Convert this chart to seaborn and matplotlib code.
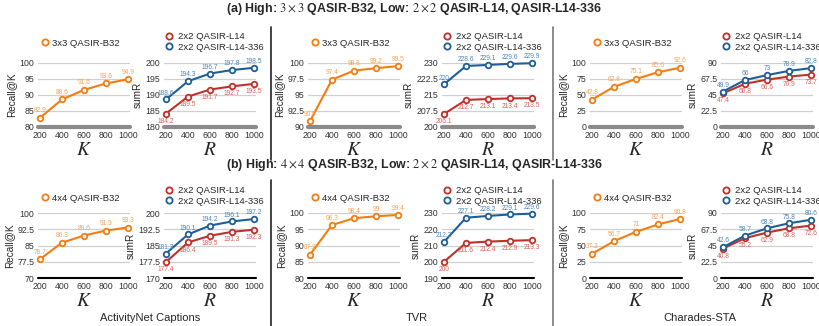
import pandas as pd
import matplotlib.pyplot as plt
import seaborn as sns
from matplotlib.lines import Line2D

sns.set_style('white')
plt.rcParams['font.family'] = ['Liberation Sans', 'DejaVu Sans']
plt.rcParams['mathtext.fontset'] = 'stix'

steps = [200, 400, 600, 800, 1000]

# (a) high 3x3
a_anet_k = [82.9, 88.6, 91.6, 93.6, 94.9]
a_anet_l14 = [184.2, 189.5, 191.7, 192.7, 193.5]
a_anet_l336 = [188.6, 194.3, 196.7, 197.8, 198.5]
a_tvr_k = [90.9, 97.4, 98.8, 99.2, 99.5]
a_tvr_l14 = [206.1, 212.7, 213.1, 213.4, 213.5]
a_tvr_l336 = [220, 228.6, 229.1, 229.6, 229.9]
a_cha_k = [42.8, 62.8, 75.1, 85.6, 92.6]
a_cha_l14 = [47.4, 60.8, 66.6, 70.9, 73.7]
a_cha_l336 = [49.9, 66, 73, 78.9, 82.8]

# (b) high 4x4
b_anet_k = [78.7, 86.3, 89.6, 91.9, 93.3]
b_anet_l14 = [177.4, 186.4, 189.5, 191.3, 192.3]
b_anet_l336 = [181.3, 190.1, 194.2, 196.1, 197.2]
b_tvr_k = [87.2, 96.3, 98.4, 99, 99.4]
b_tvr_l14 = [200, 211.6, 212.4, 212.9, 213.3]
b_tvr_l336 = [212.2, 227.1, 228.2, 229.1, 229.6]
b_cha_k = [37.2, 56.7, 71, 82.4, 90.8]
b_cha_l14 = [40.8, 55.2, 62.9, 68.8, 72.6]
b_cha_l336 = [42.6, 58.7, 68.8, 75.8, 80.6]

datasets = ['ActivityNet Captions', 'TVR', 'Charades-STA']
row_titles = [r'(a) High: $3\times3$ QASIR-B32, Low: $2\times2$ QASIR-L14, QASIR-L14-336',
              r'(b) High: $4\times4$ QASIR-B32, Low: $2\times2$ QASIR-L14, QASIR-L14-336']
high_names = ['3x3 QASIR-B32', '4x4 QASIR-B32']

k_data = [[a_anet_k, a_tvr_k, a_cha_k], [b_anet_k, b_tvr_k, b_cha_k]]
r_data = [[(a_anet_l14, a_anet_l336), (a_tvr_l14, a_tvr_l336), (a_cha_l14, a_cha_l336)],
          [(b_anet_l14, b_anet_l336), (b_tvr_l14, b_tvr_l336), (b_cha_l14, b_cha_l336)]]
k_ticks = [[[80, 85, 90, 95, 100], [90, 92.5, 95, 97.5, 100], [0, 25, 50, 75, 100]],
           [[70, 77.5, 85, 92.5, 100], [80, 85, 90, 95, 100], [0, 25, 50, 75, 100]]]
r_ticks = [[[180, 185, 190, 195, 200], [200, 207.5, 215, 222.5, 230], [0, 22.5, 45, 67.5, 90]],
           [[170, 177.5, 185, 192.5, 200], [190, 200, 210, 220, 230], [0, 22.5, 45, 67.5, 90]]]

ORANGE, RED, BLUE = '#f57c10', '#c0302a', '#1f5e96'
ORANGE_T, RED_T, BLUE_T = '#f5a35a', '#d8605a', '#4d86bb'

W, H = 820, 326
fig = plt.figure(figsize=(W / 100, H / 100), dpi=100)

x_left = [40, 166, 310, 444, 592, 723]
row_top = [63, 213]
row_bot = [127, 278]
pw = 88


def make_ax(xpx, row):
    per = pw / 800
    x0 = xpx - 15 * per
    w = pw + 30 * per
    return fig.add_axes([x0 / W, 1 - row_bot[row] / H, w / W, (row_bot[row] - row_top[row]) / H])


def style(ax, ticks, row, ylabel, xlabel):
    ax.set_xlim(185, 1015)
    ax.set_ylim(ticks[0], ticks[-1])
    ax.set_yticks(ticks)
    ax.set_yticklabels([('%g' % t) for t in ticks])
    ax.set_xticks(steps)
    ax.tick_params(labelsize=6.3, colors='#333333', length=0, pad=3)
    for s in ax.spines.values():
        s.set_visible(False)
    ax.grid(axis='y', color='#d0d0d0', lw=0.9)
    ax.set_axisbelow(True)
    if row == 0:
        ax.axhline(ticks[0], color='#8a8a8a', lw=3, clip_on=False, zorder=1)
    else:
        ax.axhline(ticks[0], color='black', lw=1.5, clip_on=False, zorder=1)
    ax.set_ylabel(ylabel, fontsize=7.2, labelpad=2)
    ax.set_xlabel(xlabel, fontsize=14, labelpad=1)


def draw(ax, vals, color, tcolor, dy):
    df = pd.DataFrame({'x': steps, 'y': vals})
    sns.lineplot(data=df, x='x', y='y', ax=ax, color=color, lw=1.5, marker='o',
                 markersize=4, markerfacecolor='white', markeredgecolor=color,
                 markeredgewidth=1.3, clip_on=False)
    for x, y in zip(steps, vals):
        ax.annotate('%g' % y, (x, y), xytext=(0, dy), textcoords='offset points',
                    ha='center', va='center', fontsize=4.8, color=tcolor)


for row in range(2):
    for d in range(3):
        axk = make_ax(x_left[2 * d], row)
        draw(axk, k_data[row][d], ORANGE, ORANGE_T, 5)
        style(axk, k_ticks[row][d], row, 'Recall@K', '$K$')
        hk = [Line2D([], [], ls='none', marker='o', markersize=4.5, markerfacecolor='white',
                     markeredgecolor=ORANGE, markeredgewidth=1.3)]
        ly = 43 if row == 0 else 198
        axk.legend(hk, [high_names[row]], loc='center', frameon=False, fontsize=6.8,
                   handletextpad=0.3, borderpad=0, handlelength=1,
                   bbox_to_anchor=((x_left[2 * d] + 40) / W, 1 - ly / H),
                   bbox_transform=fig.transFigure)

        axr = make_ax(x_left[2 * d + 1], row)
        l14, l336 = r_data[row][d]
        draw(axr, l14, RED, RED_T, -5.5)
        draw(axr, l336, BLUE, BLUE_T, 4.5)
        style(axr, r_ticks[row][d], row, 'sumR', '$R$')
        hr = [Line2D([], [], ls='none', marker='o', markersize=4.5, markerfacecolor='white',
                     markeredgecolor=c, markeredgewidth=1.3) for c in (RED, BLUE)]
        ly = 42 if row == 0 else 196
        axr.legend(hr, ['2x2 QASIR-L14', '2x2 QASIR-L14-336'], loc='center left', frameon=False,
                   fontsize=6.8, handletextpad=0.4, borderpad=0, handlelength=1, labelspacing=0.12,
                   bbox_to_anchor=((x_left[2 * d + 1] - 6) / W, 1 - ly / H),
                   bbox_transform=fig.transFigure)

for row, y in enumerate([9, 165]):
    fig.text(0.505, 1 - y / H, row_titles[row], ha='center', va='center', fontsize=8.9,
             fontweight='bold')

for x, name in zip([150, 417, 700], datasets):
    fig.text(x / W, 1 - 318 / H, name, ha='center', va='center', fontsize=8)

for x, c in [(271, '#222222'), (553, '#777777')]:
    fig.add_artist(Line2D([x / W, x / W], [1 - 27 / H, 1 - 160 / H], color=c, lw=1.2))
    fig.add_artist(Line2D([x / W, x / W], [1 - 180 / H, 0], color=c, lw=1.2))

fig.savefig('out.png', dpi=100)
plt.close(fig)
